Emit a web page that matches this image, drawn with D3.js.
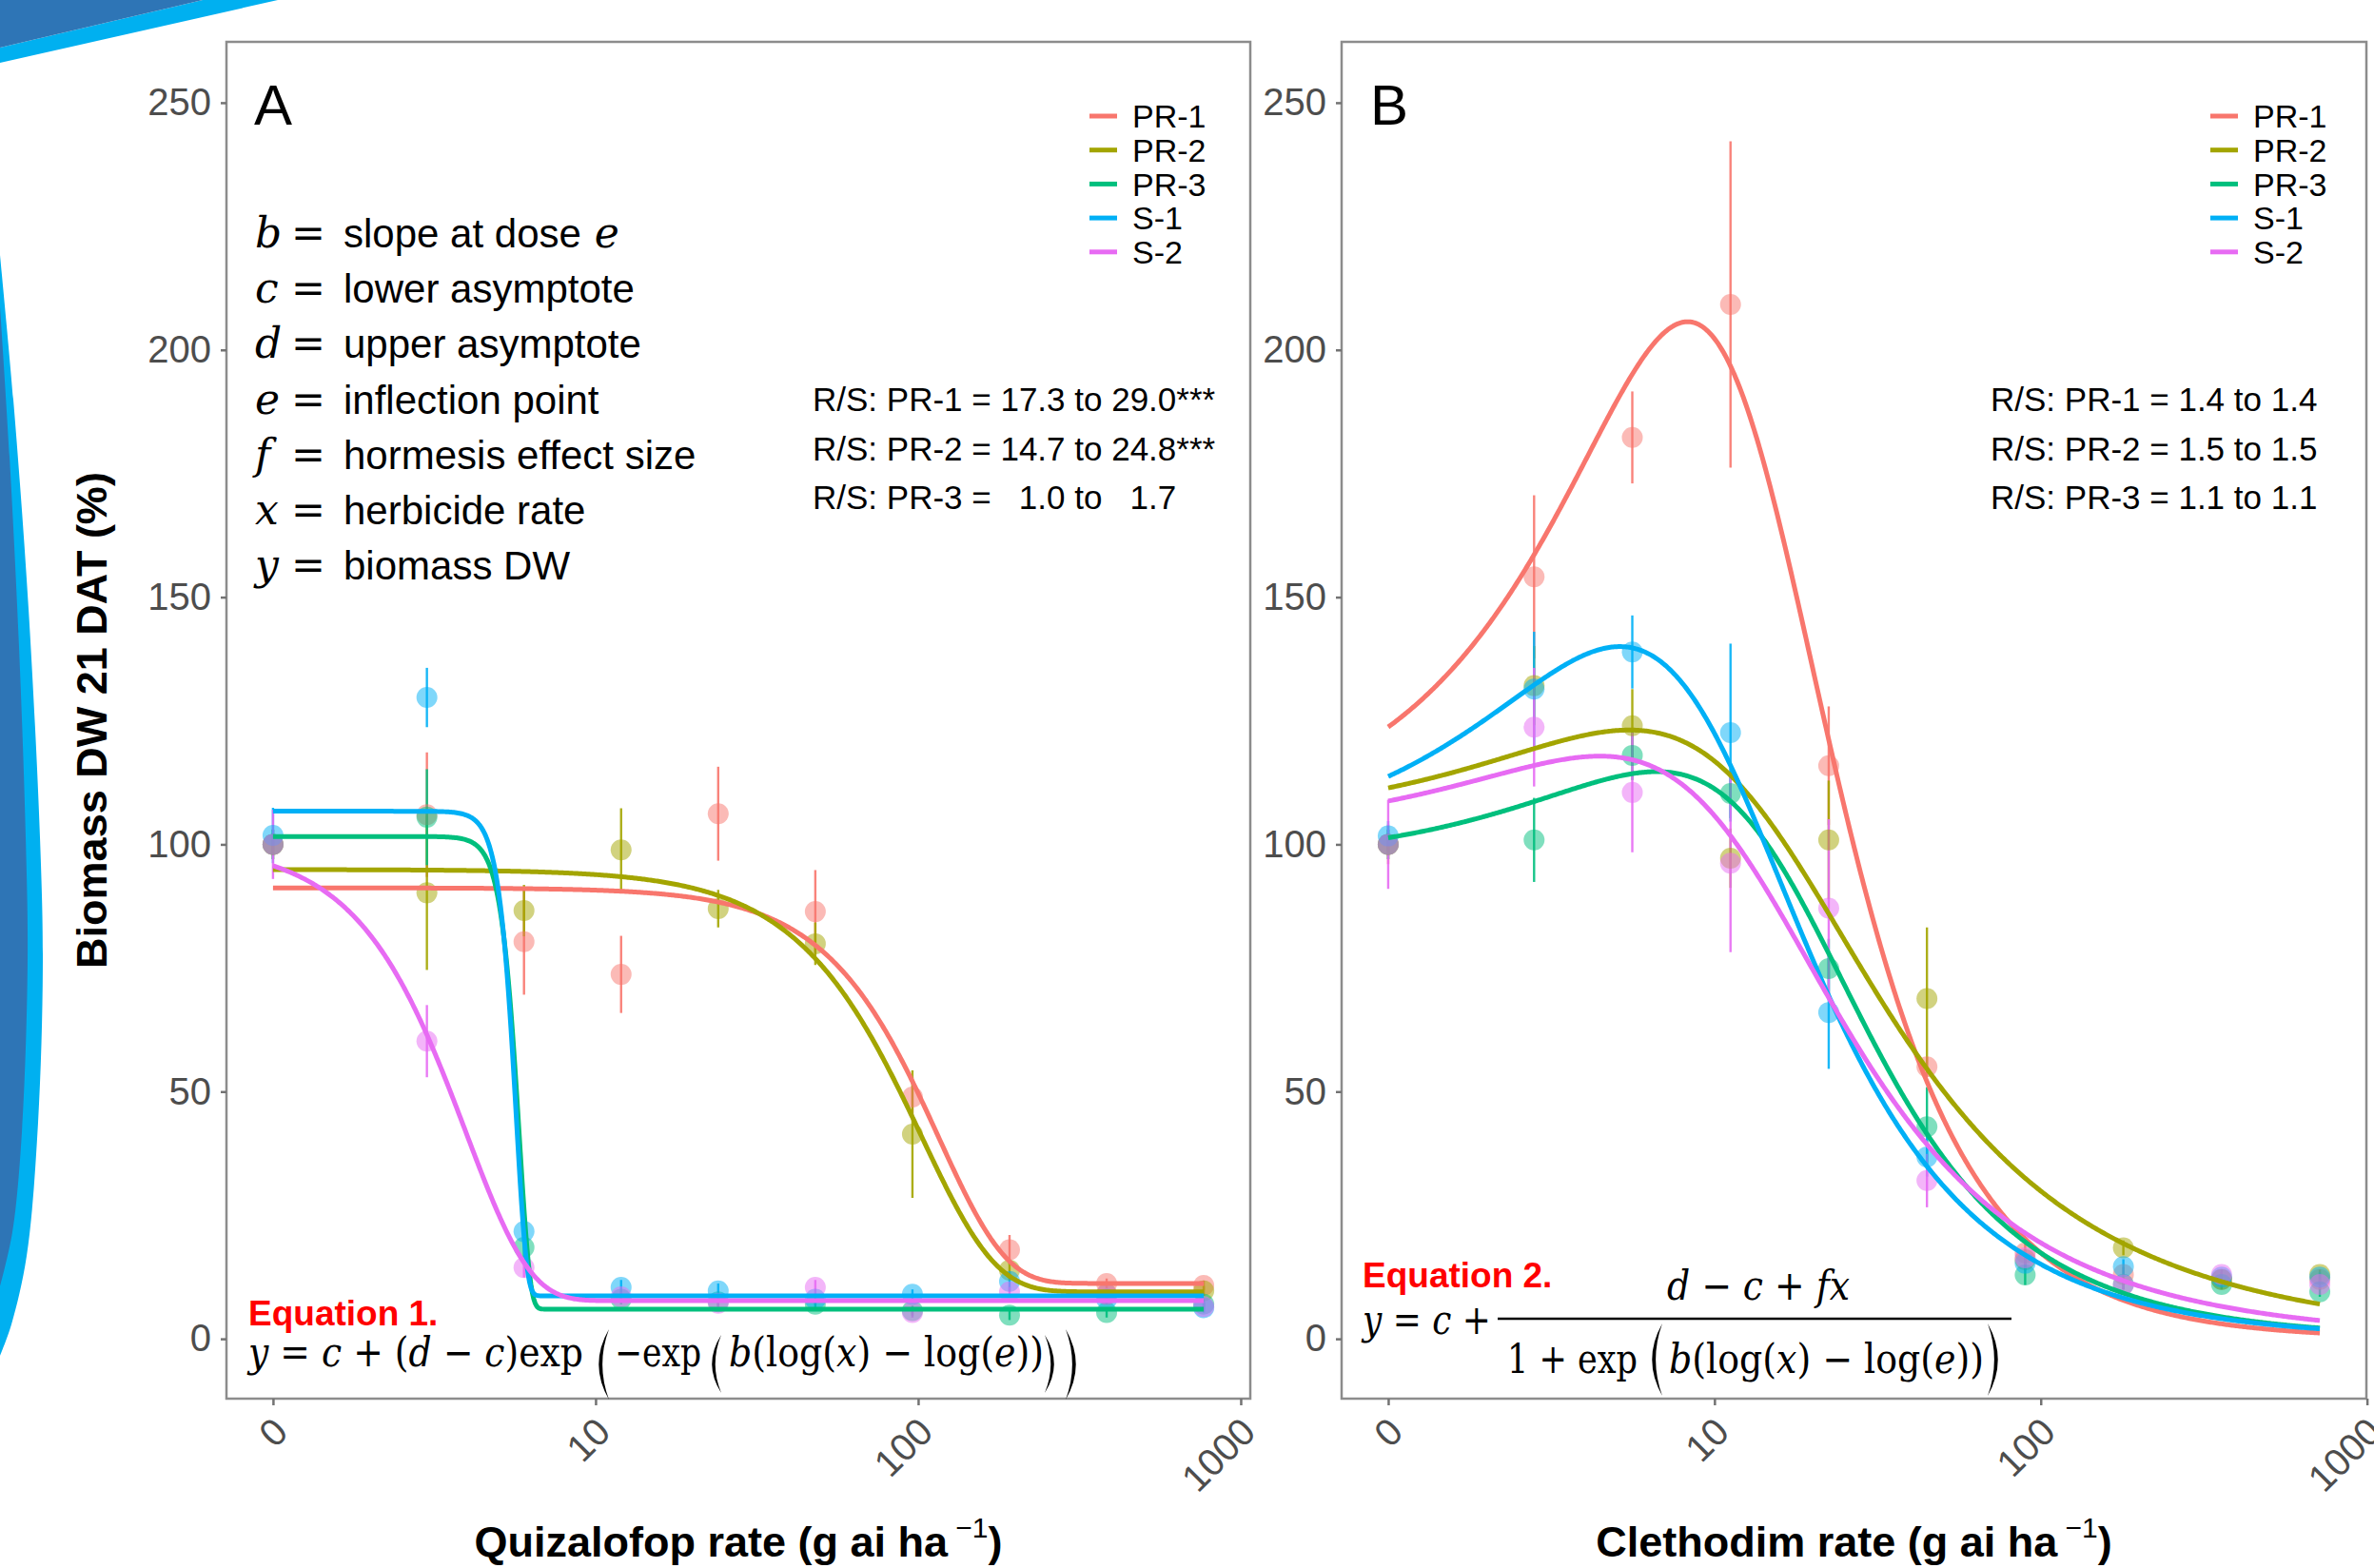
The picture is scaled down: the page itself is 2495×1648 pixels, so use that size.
<!DOCTYPE html>
<html>
<head>
<meta charset="utf-8">
<script src="https://cdn.jsdelivr.net/npm/d3@7"></script>
<style>
  html, body { margin: 0; padding: 0; background: #fff; }
  svg { display: block; }
</style>
</head>
<body>
<svg id="graphic-svg" width="2495" height="1648"></svg>
<script>
////////////////////////////////////////////////////////////////////////////////////
// Populations + ggplot hue colours
var groups = ["PR-1", "PR-2", "PR-3", "S-1", "S-2"];
var colors = ["#F8766D", "#A3A500", "#00BF7D", "#00B0F6", "#E76BF3"];

// Panel A - quizalofop (dose 0 is drawn at the place of 1)
var dosesA = [0, 3, 6, 12, 24, 48, 96, 192, 384, 768];
var meansA = [
  [100, 106.0, 80.3, 73.7, 106.2, 86.4, 48.9, 18.0, 11.2, 10.8],   // PR-1
  [100, 90.2, 86.6, 98.9, 87.0, 79.9, 41.4, 13.9, 9.0, 9.7],       // PR-2
  [100, 105.5, 18.5, 8.0, 7.5, 7.0, 5.7, 4.8, 5.3, 7.0],           // PR-3
  [101.8, 129.7, 21.7, 10.4, 9.7, 8.0, 9.0, 11.6, 8.0, 6.3],       // S-1
  [100, 60.2, 14.4, 8.5, 7.2, 10.4, 5.3, 9.5, 9.0, 6.5]            // S-2
];
var errA = [
  [3, 12.6, 10.7, 7.8, 9.5, 8.4, 4, 3, 1, 1],
  [3, 15.6, 5.2, 8.4, 3.8, 4.3, 12.9, 2, 1, 1],
  [3, 9.7, 2, 1, 1, 1, 1, 1, 1, 1],
  [5.6, 6, 2, 1.5, 1.5, 1, 1, 2, 1, 1],
  [7, 7.3, 2, 1, 1, 1.5, 1, 1, 1, 1]
];
// Equation 1 fit, one value per population
var bA = [2.1, 1.9, 13, 13.5, 2.2];
var cA = [11.2, 9.5, 6.0, 8.7, 7.7];
var dA = [91.2, 94.9, 101.6, 106.7, 100];
var eA = [116, 102.5, 5.8, 5.68, 3.97];
var rsA = ["R/S: PR-1 = 17.3 to 29.0***", "R/S: PR-2 = 14.7 to 24.8***", "R/S: PR-3 =   1.0 to   1.7"];

// Panel B - clethodim
var dosesB = [0, 2.8, 5.6, 11.2, 22.4, 44.8, 89.6, 179.2, 358.4, 716.8];
var meansB = [
  [100, 154.1, 182.3, 209.2, 115.9, 55.0, 17.4, 13.0, 12.0, 12.0],
  [100, 132.1, 124.0, 97.2, 100.9, 68.8, 16.0, 18.4, 12.0, 13.0],
  [100, 100.9, 118.0, 110.3, 74.9, 42.9, 12.9, 11.0, 11.0, 9.5],
  [101.7, 131.4, 138.9, 122.6, 66.0, 36.8, 15.3, 14.6, 12.5, 12.5],
  [100, 123.7, 110.5, 96.2, 87.1, 32.0, 16.4, 10.9, 13.0, 11.0]
];
var errB = [
  [4, 16.5, 9.3, 33, 12, 2, 2, 1.5, 1, 1],
  [3, 8, 7.4, 6, 12, 14.4, 1.5, 1.5, 1, 1],
  [3, 8.5, 5, 5, 6, 8, 2, 1, 1, 1],
  [3, 11.6, 7.4, 18, 11.4, 4, 1.5, 1.5, 1, 1],
  [9, 12, 12.1, 18, 18, 5.4, 1.5, 1, 1, 1]
];
// Equation 2 fit
var bB = [2.35, 1.7, 2.0, 2.0, 1.8];
var cB = [0, 0, 0, 0, 0];
var dB = [102.3, 104.5, 96.1, 99, 102];
var eB = [12.6, 13.5, 16.5, 9.47, 12];
var fB = [21.75, 8.25, 5.6, 16, 8];
var rsB = ["R/S: PR-1 = 1.4 to 1.4", "R/S: PR-2 = 1.5 to 1.5", "R/S: PR-3 = 1.1 to 1.1"];

// Axes
var yTicks = [0, 50, 100, 150, 200, 250];
var xTicks = [1, 10, 100, 1000];
var xTickLabels = ["0", "10", "100", "1000"];

var defLetters = ["b", "c", "d", "e", "f", "x", "y"];
var defTexts = ["slope at dose", "lower asymptote", "upper asymptote", "inflection point",
                "hormesis effect size", "herbicide rate", "biomass DW"];

////////////////////////////////////////////////////////////////////////////////////
var svg = d3.select("#graphic-svg");
var sans = '"Liberation Sans", Arial, sans-serif';
var serif = '"DejaVu Serif", "Liberation Serif", serif';
var panelTop = 44, panelBottom = 1470;
var yScale = d3.scaleLinear().domain([-12.1, 262.3]).range([panelBottom, panelTop]);

function pos(d) { return d === 0 ? 1 : d; }

// log x scale with ggplot's 5% expansion
function makeX(left, right, maxDose) {
  var hi = Math.log10(maxDose), pad = hi * 0.05;
  return d3.scaleLog()
           .domain([Math.pow(10, -pad), Math.pow(10, hi + pad)])
           .range([left, right]);
}

function weibull(x, i) {
  return cA[i] + (dA[i] - cA[i]) * Math.exp(-Math.exp(bA[i] * (Math.log(x) - Math.log(eA[i]))));
}
function brainCousens(x, i) {
  return cB[i] + (dB[i] - cB[i] + fB[i] * x) / (1 + Math.exp(bB[i] * (Math.log(x) - Math.log(eB[i]))));
}

// Background decoration (slide template swooshes)
var swoosh = d3.line().curve(d3.curveCatmullRom);
svg.append("path")
   .attr("d", swoosh([[0,268],[14,420],[30,640],[42,880],[45,1010],[40,1180],[28,1320],[12,1392],[0,1425]]) + "Z")
   .attr("fill", "#00B0F0");
svg.append("path")
   .attr("d", swoosh([[0,322],[10,480],[20,680],[27,880],[29,1010],[23,1190],[13,1295],[0,1352]]) + "Z")
   .attr("fill", "#2E75B6");
svg.append("path").attr("d", "M213,0 L292,0 L0,66 L0,50 Z").attr("fill", "#00B0F0");
svg.append("path").attr("d", "M0,0 L213,0 L0,50 Z").attr("fill", "#2E75B6");

////////////////////////////////////////////////////////////////////////////////////
function drawPanel(cfg) {
  var x = makeX(cfg.left, cfg.right, d3.max(cfg.doses));
  var g = svg.append("g");

  g.append("rect")
   .attr("x", cfg.left).attr("y", panelTop)
   .attr("width", cfg.right - cfg.left).attr("height", panelBottom - panelTop)
   .attr("fill", "white");

  // flatten data
  var pts = [];
  groups.forEach(function(name, i) {
    cfg.doses.forEach(function(dose, j) {
      pts.push({ g: i, dose: dose, mean: cfg.means[i][j], err: cfg.errs[i][j] });
    });
  });

  // error bars
  g.selectAll(".err")
   .data(pts)
   .enter()
   .append("line")
   .attr("class", "err")
   .attr("x1", function(d) { return x(pos(d.dose)); })
   .attr("x2", function(d) { return x(pos(d.dose)); })
   .attr("y1", function(d) { return yScale(d.mean - d.err); })
   .attr("y2", function(d) { return yScale(d.mean + d.err); })
   .attr("stroke", function(d) { return colors[d.g]; })
   .attr("stroke-width", 2.4)
   .attr("stroke-opacity", 0.9);

  // points
  g.selectAll(".pt")
   .data(pts)
   .enter()
   .append("circle")
   .attr("class", "pt")
   .attr("cx", function(d) { return x(pos(d.dose)); })
   .attr("cy", function(d) { return yScale(d.mean); })
   .attr("r", 11)
   .attr("fill", function(d) { return colors[d.g]; })
   .attr("fill-opacity", 0.5);

  // fitted curves
  var maxDose = d3.max(cfg.doses);
  var xs = d3.range(0, 701).map(function(k) { return Math.pow(10, Math.log10(maxDose) * k / 700); });
  groups.forEach(function(name, i) {
    var line = d3.line()
                 .x(function(d) { return x(d); })
                 .y(function(d) { return yScale(cfg.model(d, i)); });
    g.append("path")
     .datum(xs)
     .attr("d", line)
     .attr("fill", "none")
     .attr("stroke", colors[i])
     .attr("stroke-width", 5)
     .attr("stroke-linejoin", "round");
  });

  // border on top
  g.append("rect")
   .attr("x", cfg.left).attr("y", panelTop)
   .attr("width", cfg.right - cfg.left).attr("height", panelBottom - panelTop)
   .attr("fill", "none")
   .attr("stroke", "#8c8c8c")
   .attr("stroke-width", 2.5);

  // y axis
  var ya = g.append("g")
            .attr("transform", "translate(" + cfg.left + ",0)")
            .call(d3.axisLeft(yScale).tickValues(yTicks).tickSize(6).tickPadding(10));
  ya.select(".domain").remove();
  ya.attr("font-size", 40).attr("font-family", sans);
  ya.selectAll("line").attr("stroke", "#737373").attr("stroke-width", 2.5);
  ya.selectAll("text").attr("fill", "#4d4d4d");

  // x axis
  var xa = g.append("g")
            .attr("transform", "translate(0," + panelBottom + ")")
            .call(d3.axisBottom(x).tickValues(xTicks).tickSize(7)
                    .tickFormat(function(d, i) { return xTickLabels[i]; }));
  xa.select(".domain").remove();
  xa.attr("font-size", 40).attr("font-family", sans);
  xa.selectAll("line").attr("stroke", "#737373").attr("stroke-width", 2.5);
  xa.selectAll("text")
    .attr("fill", "#4d4d4d")
    .attr("x", 0).attr("y", 0)
    .attr("dy", "0.75em")
    .attr("text-anchor", "end")
    .attr("transform", "translate(-4,16) rotate(-45)");

  // panel letter
  g.append("text")
   .attr("x", cfg.letterX).attr("y", 131)
   .attr("font-family", sans).attr("font-size", 60)
   .text(cfg.letter);

  // legend
  groups.forEach(function(name, i) {
    var yy = 122 + i * 35.7;
    g.append("line")
     .attr("x1", cfg.legendX).attr("x2", cfg.legendX + 29)
     .attr("y1", yy).attr("y2", yy)
     .attr("stroke", colors[i]).attr("stroke-width", 5);
    g.append("text")
     .attr("x", cfg.legendX + 45).attr("y", yy)
     .attr("dy", "0.36em")
     .attr("font-family", sans).attr("font-size", 34)
     .text(name);
  });

  // R/S ratios
  cfg.rs.forEach(function(s, i) {
    g.append("text")
     .attr("x", cfg.rsX).attr("y", 432 + i * 51.5)
     .attr("font-family", sans).attr("font-size", 35)
     .style("white-space", "pre")
     .text(s);
  });

  // x axis title
  var t = g.append("text")
           .attr("x", (cfg.left + cfg.right) / 2).attr("y", 1636)
           .attr("text-anchor", "middle")
           .attr("font-family", sans).attr("font-size", 45).attr("font-weight", "bold")
           .text(cfg.title);
  t.append("tspan").attr("dy", -20).attr("font-size", 30).attr("font-weight", "normal").text(" \u22121");
  t.append("tspan").attr("dy", 20).text(")");
}; // end drawPanel

drawPanel({ left: 238, right: 1314, doses: dosesA, means: meansA, errs: errA, model: weibull,
            letter: "A", letterX: 267, legendX: 1145, rsX: 854, rs: rsA,
            title: "Quizalofop rate (g ai ha" });
drawPanel({ left: 1410, right: 2487, doses: dosesB, means: meansB, errs: errB, model: brainCousens,
            letter: "B", letterX: 1440, legendX: 2323, rsX: 2092, rs: rsB,
            title: "Clethodim rate (g ai ha" });

// y axis title
svg.append("text")
   .attr("transform", "translate(112,757) rotate(-90)")
   .attr("text-anchor", "middle")
   .attr("font-family", sans).attr("font-size", 45).attr("font-weight", "bold")
   .text("Biomass DW 21 DAT (%)");

////////////////////////////////////////////////////////////////////////////////////
// Parameter definitions (panel A)
defLetters.forEach(function(l, i) {
  var yy = 260 + i * 58.2;
  svg.append("text").attr("x", 268).attr("y", yy)
     .attr("font-family", serif).attr("font-style", "italic").attr("font-size", 44)
     .text(l);
  svg.append("text").attr("x", 306).attr("y", yy)
     .attr("font-family", serif).attr("font-size", 44)
     .attr("textLength", 36).attr("lengthAdjust", "spacingAndGlyphs")
     .text("=");
  var t = svg.append("text").attr("x", 361).attr("y", yy)
             .attr("font-family", sans).attr("font-size", 42)
             .text(defTexts[i]);
  if (i == 0) {
    t.append("tspan").attr("font-family", serif).attr("font-style", "italic").attr("font-size", 44)
     .text(" e");
  }
});

// math helpers
function mathText(x, y, width, parts, size) {
  var t = svg.append("text")
             .attr("x", x).attr("y", y)
             .attr("font-family", serif).attr("font-size", size || 42)
             .attr("textLength", width).attr("lengthAdjust", "spacingAndGlyphs")
             .style("white-space", "pre");
  parts.forEach(function(p) {
    t.append("tspan").attr("font-style", p[1] ? "italic" : "normal").text(p[0]);
  });
  return t;
}
function paren(x, top, bottom, side, w) {
  // crescent shaped stretchy bracket
  var mid = (top + bottom) / 2, s = side == "L" ? 1 : -1;
  var x0 = x + s * w, xc = x - s * w * 0.95, xi = x - s * w * 0.25;
  svg.append("path")
     .attr("d", "M" + x0 + "," + top + " Q" + xc + "," + mid + " " + x0 + "," + bottom +
                " Q" + xi + "," + mid + " " + x0 + "," + top + " Z")
     .attr("fill", "black");
}

// Equation 1
svg.append("text").attr("x", 261).attr("y", 1393)
   .attr("font-family", sans).attr("font-size", 37).attr("font-weight", "bold")
   .attr("fill", "#FF0000").text("Equation 1.");
mathText(261, 1436, 352, [["y", 1], [" = ", 0], ["c", 1], [" + (", 0], ["d", 1], [" \u2212 ", 0], ["c", 1], [")exp", 0]]);
paren(629, 1397, 1471, "L", 11);
mathText(646, 1436, 91, [["\u2212exp", 0]]);
paren(748, 1403, 1464, "L", 10);
mathText(766, 1436, 331, [["b", 1], ["(log(", 0], ["x", 1], [") \u2212 log(", 0], ["e", 1], ["))", 0]]);
paren(1108, 1403, 1464, "R", 10);
paren(1131, 1397, 1471, "R", 11);

// Equation 2
svg.append("text").attr("x", 1432).attr("y", 1353)
   .attr("font-family", sans).attr("font-size", 37).attr("font-weight", "bold")
   .attr("fill", "#FF0000").text("Equation 2.");
mathText(1432, 1402, 135, [["y", 1], [" = ", 0], ["c", 1], [" +", 0]]);
svg.append("line").attr("x1", 1574).attr("x2", 2114).attr("y1", 1386).attr("y2", 1386)
   .attr("stroke", "black").attr("stroke-width", 2.5);
mathText(1752, 1366, 192, [["d", 1], [" \u2212 ", 0], ["c", 1], [" + ", 0], ["fx", 1]]);
mathText(1584, 1443, 137, [["1 + exp", 0]]);
paren(1736, 1391, 1467, "L", 11);
mathText(1754, 1443, 331, [["b", 1], ["(log(", 0], ["x", 1], [") \u2212 log(", 0], ["e", 1], ["))", 0]]);
paren(2100, 1391, 1467, "R", 11);
</script>
</body>
</html>
